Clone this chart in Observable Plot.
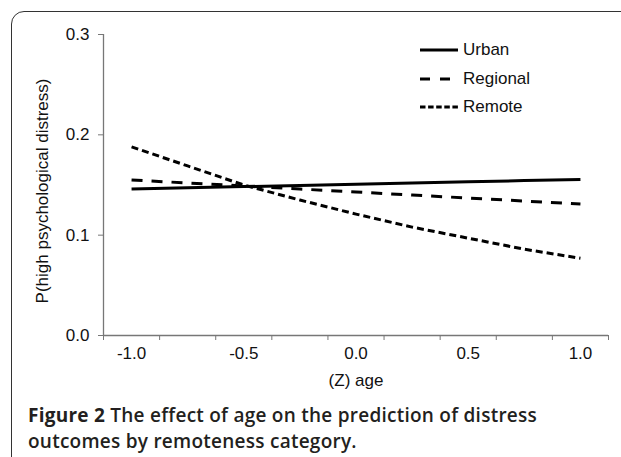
<!DOCTYPE html>
<html>
<head>
<meta charset="utf-8">
<script src="https://cdn.jsdelivr.net/npm/d3@7"></script>
<script src="https://cdn.jsdelivr.net/npm/@observablehq/plot@0.6"></script>
<style>
  html, body { margin: 0; padding: 0; background: #fff; width: 621px; height: 457px; overflow: hidden; }
  #wrap { position: relative; width: 621px; height: 457px; overflow: hidden; }
  #frame { position: absolute; left: 11px; top: 11px; width: 640px; height: 470px; border: 1.5px solid #333; border-radius: 13px; box-sizing: border-box; }
  #chart { position: absolute; left: 0; top: 0; }
  #legend { position: absolute; left: 420px; top: 36px; font-family: "Liberation Sans", Arial, sans-serif; font-size: 17px; color: #111; }
  .row { display: flex; align-items: center; height: 28.5px; }
  .row svg { display: block; margin-right: 5px; }
  #caption { position: absolute; left: 28px; top: 402px; width: 545px; font-family: "Open Sans", sans-serif; font-size: 19px; letter-spacing: 0.25px; line-height: 26px; color: #231f20; font-weight: 600; }
  #caption b { font-weight: 700; }
</style>
</head>
<body>
<div id="wrap">
  <div id="frame"></div>
  <div id="chart"></div>
  <div id="legend"></div>
  <div id="caption"></div>
</div>
<script>
const ages = [-1, -0.75, -0.5, -0.25, 0, 0.25, 0.5, 0.75, 1];
const urban = [0.1460, 0.1472, 0.1484, 0.1496, 0.1508, 0.1520, 0.1532, 0.1544, 0.1556];
const regional = [0.155, 0.152, 0.149, 0.146, 0.143, 0.140, 0.137, 0.134, 0.131];
const remote = [0.188, 0.169, 0.150, 0.135, 0.121, 0.108, 0.097, 0.086, 0.077];
const seriesNames = ["Urban", "Regional", "Remote"];
const yTicks = [0, 0.1, 0.2, 0.3];
const xTickLabels = [-1, -0.5, 0, 0.5, 1];
const xTitle = "(Z) age";
const yTitle = "P(high psychological distress)";
const captionBold = "Figure 2";
const captionText = " The effect of age on the prediction of distress outcomes by remoteness category.";

const dashes = { Urban: null, Regional: "11,9", Remote: "7,4" };
const legendDashes = { Urban: null, Regional: "10,10", Remote: "5.5,2.6" };

const seriesValues = [urban, regional, remote];
const data = [];
seriesNames.forEach((s, i) => ages.forEach((a, j) => data.push({ series: s, age: a, p: seriesValues[i][j] })));

// category boundaries (Excel style category axis)
const step = ages[1] - ages[0];
const boundaries = ages.map(a => a - step / 2).concat([ages[ages.length - 1] + step / 2]);
const xDomain = [boundaries[0], boundaries[boundaries.length - 1]];
const yDomain = [yTicks[0], yTicks[yTicks.length - 1]];

const axisColor = "#777";
const chart = Plot.plot({
  width: 621,
  height: 395,
  marginLeft: 103,
  marginRight: 13,
  marginTop: 34,
  marginBottom: 60,
  style: { fontFamily: "'Liberation Sans', Arial, sans-serif", fontSize: "17px", background: "transparent", color: "#111", overflow: "visible" },
  x: { domain: xDomain },
  y: { domain: yDomain },
  marks: [
    Plot.ruleX([xDomain[0]], { y1: yDomain[0], y2: yDomain[1], stroke: axisColor, strokeWidth: 1.3 }),
    Plot.ruleY([yDomain[0]], { x1: xDomain[0], x2: xDomain[1], stroke: axisColor, strokeWidth: 1.3 }),
    Plot.axisY(yTicks, { tickSize: 5, tickPadding: 9, tickFormat: d => d.toFixed(1), stroke: axisColor, fill: "#111", label: null }),
    Plot.axisX(boundaries, { tickSize: 5, tickFormat: () => "", stroke: axisColor, label: null }),
    Plot.axisX(xTickLabels, { tickSize: 0, tickPadding: 11, tickFormat: d => d.toFixed(1), fill: "#111", label: null }),
    ...seriesNames.map(s => Plot.line(data.filter(d => d.series === s), {
      x: "age", y: "p", stroke: "#000", strokeWidth: 3, strokeDasharray: dashes[s], strokeLinecap: "butt"
    })),
    Plot.text([xTitle], { frameAnchor: "bottom", dy: 45, text: d => d, fill: "#111", lineAnchor: "middle" }),
    Plot.text([yTitle], { frameAnchor: "left", dx: -61, dy: 6, rotate: -90, text: d => d, fill: "#111", lineAnchor: "middle", textAnchor: "middle" })
  ]
});
document.getElementById("chart").appendChild(chart);

// legend
const legend = document.getElementById("legend");
seriesNames.forEach(s => {
  const row = document.createElement("div");
  row.className = "row";
  const dash = legendDashes[s] ? ` stroke-dasharray="${legendDashes[s]}"` : "";
  row.innerHTML = `<svg width="38" height="6"><line x1="0" x2="38" y1="3" y2="3" stroke="#000" stroke-width="3"${dash}/></svg><span>${s}</span>`;
  legend.appendChild(row);
});

document.getElementById("caption").innerHTML = `<b>${captionBold}</b>${captionText}`;
</script>
</body>
</html>
